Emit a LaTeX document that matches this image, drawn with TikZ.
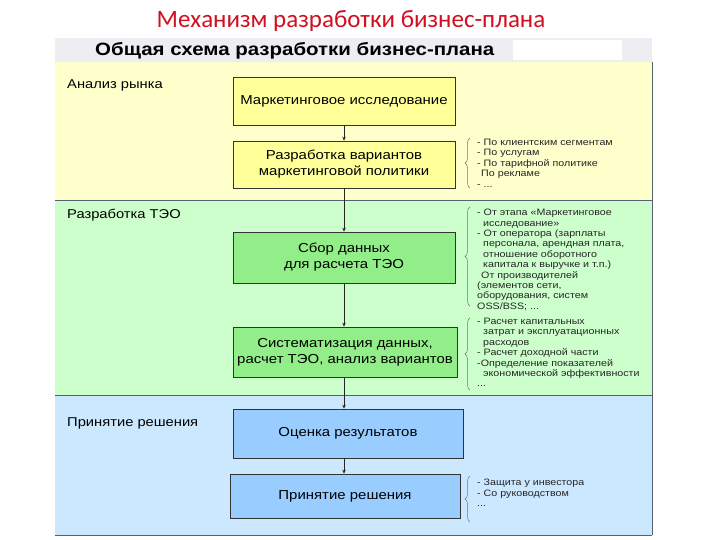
\documentclass[tikz,border=0pt]{standalone}
\usepackage{fontspec}
\setmainfont{Liberation Sans}
\newfontfamily\titlefont{Carlito}
\newfontfamily\widefont[FakeStretch=1.15]{Liberation Sans}
\usetikzlibrary{arrows.meta,decorations.pathreplacing}
\definecolor{bandY}{HTML}{FFFFCC}
\definecolor{bandG}{HTML}{CCFFCC}
\definecolor{bandB}{HTML}{CCE8FF}
\definecolor{boxY}{HTML}{FFFF99}
\definecolor{boxG}{HTML}{92EE88}
\definecolor{boxB}{HTML}{99CCFF}
\definecolor{hdr}{HTML}{EDEDF2}
\definecolor{ttl}{HTML}{D01020}
\definecolor{sep}{HTML}{556070}
\tikzset{
  stagebox/.style={draw=black!80, line width=0.7pt, align=center, inner sep=0pt, font=\widefont\fontsize{13}{16}\selectfont},
  bandlabel/.style={anchor=west, inner sep=0pt, font=\widefont\fontsize{12.8}{14}\selectfont},
  note/.style={anchor=north west, align=left, inner sep=0pt, text=black!85, font=\widefont\fontsize{9.3}{10.4}\selectfont},
  notebrace/.style={draw=black!55, line width=0.5pt, decorate, decoration={brace, amplitude=5pt}},
  flow/.style={draw=black!85, line width=0.6pt, -{Stealth[length=4pt,width=3.5pt]}}
}
\begin{document}
\begin{tikzpicture}[x=1pt,y=-1pt]
\useasboundingbox (0,0) rectangle (720,540);
\fill[white] (0,0) rectangle (720,540);
% title
\node (title) at (351,21) {\titlefont\fontsize{25}{28}\selectfont\color{ttl}Механизм разработки бизнес-плана};
% header
\fill[hdr] (55,38) rectangle (652,62);
\fill[white] (513,40) rectangle (622,60);
\node[anchor=west, inner sep=0pt, font=\widefont\bfseries\fontsize{17.8}{20}\selectfont] (hdrtext) at (95,51) {Общая схема разработки бизнес-плана};
% bands
\fill[bandY] (55,62) rectangle (652,200);
\fill[bandG] (55,200) rectangle (652,395);
\fill[bandB] (55,395) rectangle (652,535);
\draw[sep, line width=0.8pt] (55,200) -- (652,200);
\draw[sep, line width=0.8pt] (55,395) -- (652,395);
\draw[sep, line width=0.8pt] (55,535) -- (652,535);
\draw[sep, line width=0.8pt] (652,62) -- (652,535);
% band labels
\node[bandlabel] (l1) at (67,85) {Анализ рынка};
\node[bandlabel] (l2) at (67,215) {Разработка ТЭО};
\node[bandlabel] (l3) at (67,423) {Принятие решения};
% boxes
\node[stagebox, fill=boxY, minimum width=222, minimum height=48] (b1) at (344,101) {Маркетинговое исследование};
\node[stagebox, fill=boxY, minimum width=222, minimum height=47] (b2) at (344,164.5) {Разработка вариантов\\маркетинговой политики};
\node[stagebox, fill=boxG, minimum width=222, minimum height=51] (b3) at (344,257.5) {Сбор данных\\для расчета ТЭО};
\node[stagebox, fill=boxG, minimum width=224, minimum height=50] (b4) at (345,352) {Систематизация данных,\\расчет ТЭО, анализ вариантов};
\node[stagebox, fill=boxB, minimum width=230, minimum height=49] (b5) at (348,433.5) {Оценка результатов};
\node[stagebox, fill=boxB, minimum width=230, minimum height=44] (b6) at (345,496) {Принятие решения};
% arrows
\draw[flow] (b1.south) -- (b2.north);
\draw[flow] (b2.south) -- (b3.north);
\draw[flow] (b3.south) -- (b3.south |- b4.north);
\draw[flow] (b3.south |- b4.south) -- (b3.south |- b5.north);
\draw[flow] (b3.south |- b5.south) -- (b3.south |- b6.north);
% braces
\coordinate (br1a) at (470,188); \coordinate (br1b) at (470,138);
\coordinate (br2a) at (470,306); \coordinate (br2b) at (470,207);
\coordinate (br3a) at (470,390); \coordinate (br3b) at (470,318);
\coordinate (br4a) at (470,522); \coordinate (br4b) at (470,476);
\draw[notebrace] (br1a) -- (br1b);
\draw[notebrace] (br2a) -- (br2b);
\draw[notebrace] (br3a) -- (br3b);
\draw[notebrace] (br4a) -- (br4b);
% notes
\node[note] (n1) at (477,139) {- По клиентским сегментам\\- По услугам\\- По тарифной политике\\\hspace*{4pt}По рекламе\\- ...};
\node[note] (n2) at (477,209) {- От этапа «Маркетинговое\\\hspace*{6pt}исследование»\\- От оператора (зарплаты\\\hspace*{6pt}персонала, арендная плата,\\\hspace*{6pt}отношение оборотного\\\hspace*{6pt}капитала к выручке и т.п.)\\\hspace*{4pt}От производителей\\(элементов сети,\\оборудования, систем\\OSS/BSS; ...};
\node[note] (n3) at (477,318) {- Расчет капитальных\\\hspace*{6pt}затрат и эксплуатационных\\\hspace*{6pt}расходов\\- Расчет доходной части\\-Определение показателей\\\hspace*{6pt}экономической эффективности\\...};
\node[note] (n4) at (477,479) {- Защита у инвестора\\- Со руководством\\...};
\end{tikzpicture}
\end{document}
